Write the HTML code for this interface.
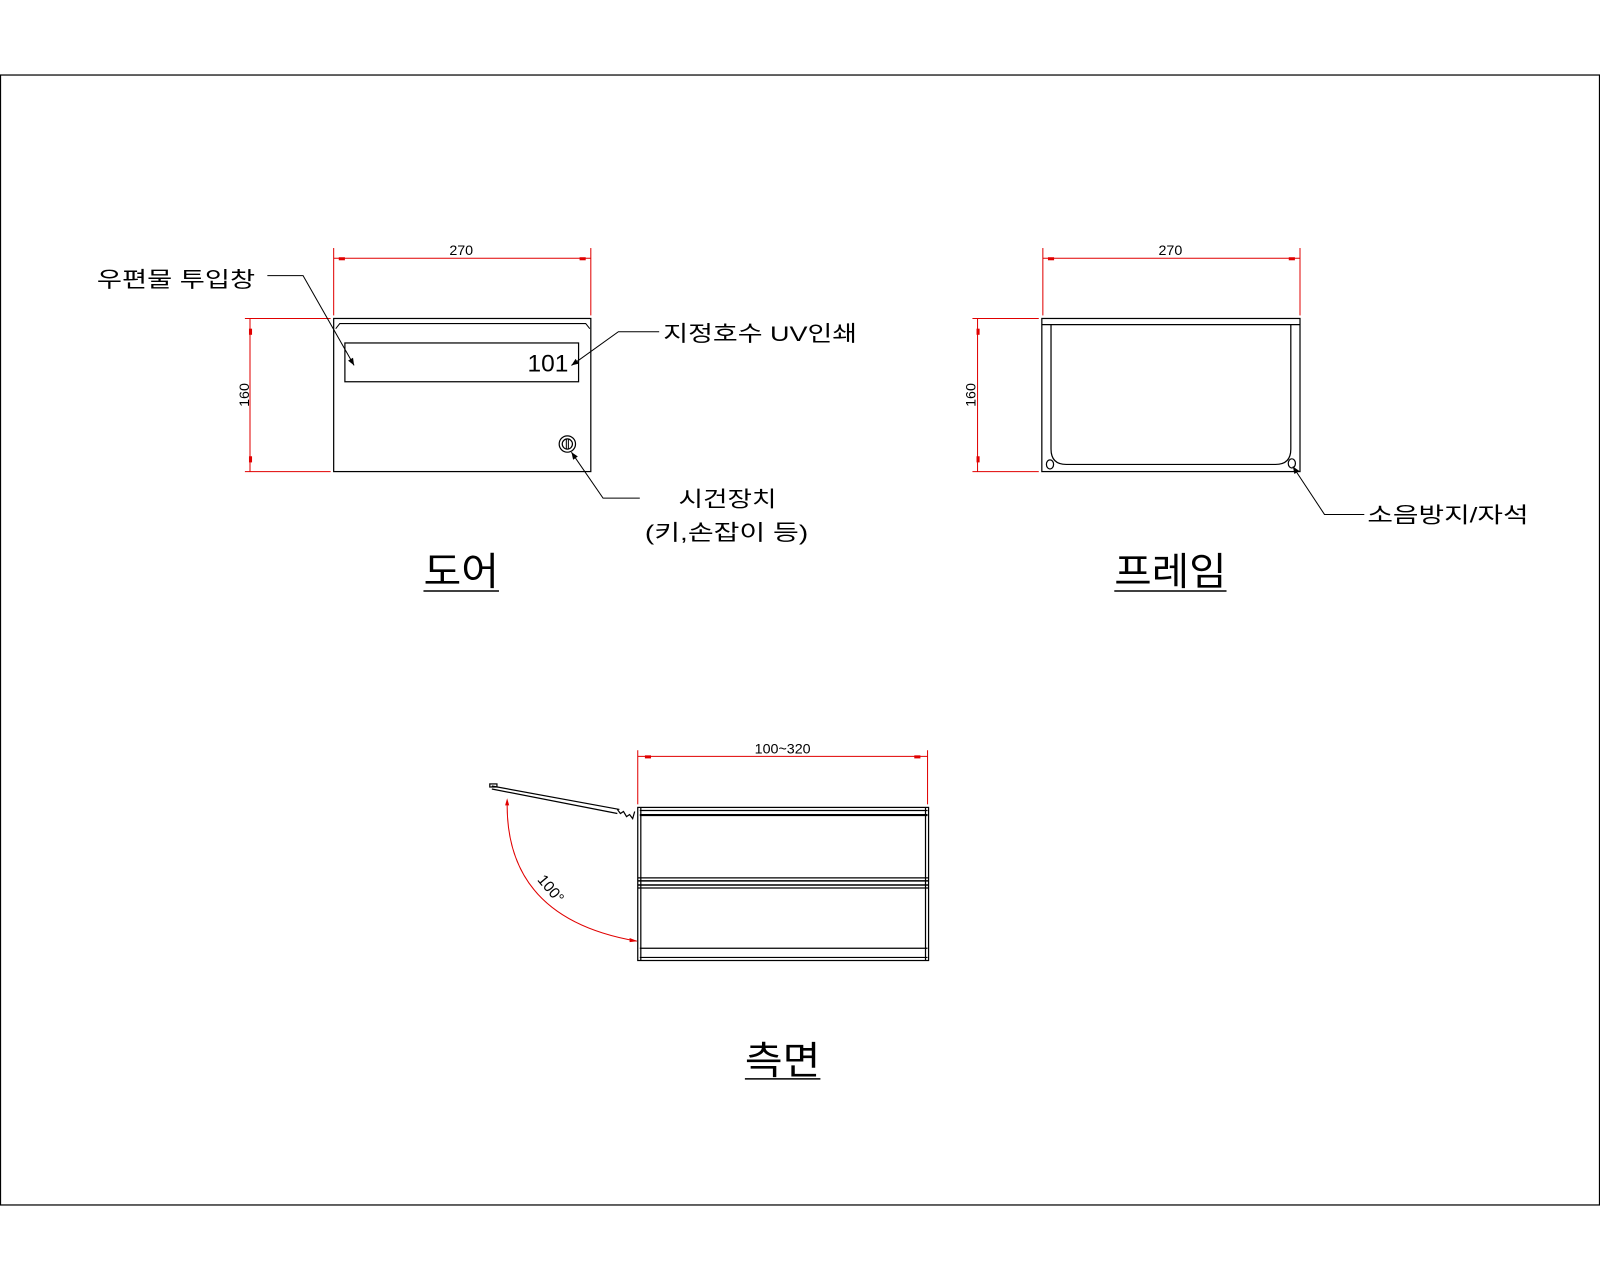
<!DOCTYPE html>
<html><head><meta charset="utf-8"><style>
html,body{margin:0;padding:0;background:#fff;}
svg{display:block;}
text{font-family:"Liberation Sans","Noto Sans CJK KR",sans-serif;fill:#000;}
</style></head><body>
<svg width="1600" height="1280" viewBox="0 0 1568 1254" preserveAspectRatio="none" xmlns="http://www.w3.org/2000/svg">
<defs>
<marker id="ar" viewBox="0 0 10 10" refX="10" refY="5" markerWidth="18" markerHeight="7" markerUnits="userSpaceOnUse" orient="auto"><path d="M0,1 L10,5 L0,9 Z" fill="#000"/></marker>
</defs>
<rect x="0.5" y="73.5" width="1567" height="1107" fill="none" stroke="#000" stroke-width="1.2"/>

<!-- DOOR -->
<g fill="none" stroke="#000" stroke-width="1.2">
<rect x="327" y="312" width="252" height="150"/>
<polyline points="329,322 333,317 574,317 578,322" stroke-width="1"/>
<rect x="338" y="336" width="229" height="38"/>
<circle cx="556" cy="435" r="8"/><circle cx="556" cy="435" r="5"/>
<line x1="555" y1="430" x2="555" y2="440" stroke-width="1"/><line x1="557" y1="430" x2="557" y2="440" stroke-width="1"/>
</g>
<text x="557" y="364" font-size="24" text-anchor="end">101</text>
<g stroke="#e00000" stroke-width="1" fill="none">
<line x1="327" y1="243" x2="327" y2="309"/><line x1="579" y1="243" x2="579" y2="309"/>
<line x1="327" y1="253" x2="579" y2="253"/>
<line x1="240" y1="312" x2="324" y2="312"/><line x1="240" y1="462" x2="324" y2="462"/>
<line x1="245" y1="312" x2="245" y2="462"/>
</g>
<g fill="#e00000"><rect x="332" y="252" width="6" height="3"/><rect x="568" y="252" width="6" height="3"/><rect x="244" y="322" width="3" height="6"/><rect x="244" y="447" width="3" height="6"/></g>
<text x="452" y="250" font-size="14" text-anchor="middle">270</text>
<text x="0" y="0" font-size="14" text-anchor="middle" transform="translate(244,387) rotate(-90)">160</text>
<g stroke="#000" stroke-width="1" fill="none">
<polyline points="262,270 297,270 347,358" marker-end="url(#ar)"/>
<polyline points="646,325 606,325 560,358" marker-end="url(#ar)"/>
<polyline points="627,488 591,488 560,443" marker-end="url(#ar)"/>
</g>
<text x="95" y="281" font-size="21" textLength="155" lengthAdjust="spacingAndGlyphs">우편물 투입창</text>
<text x="650" y="334" font-size="21" textLength="190" lengthAdjust="spacingAndGlyphs">지정호수 UV인쇄</text>
<text x="665" y="496" font-size="21" textLength="96" lengthAdjust="spacingAndGlyphs">시건장치</text>
<text x="632" y="529" font-size="21" textLength="160" lengthAdjust="spacingAndGlyphs">(키,손잡이 등)</text>
<text x="415" y="573" font-size="38" textLength="74" lengthAdjust="spacingAndGlyphs">도어</text>
<line x1="415" y1="579" x2="489" y2="579" stroke="#000" stroke-width="1.5"/>

<!-- FRAME -->
<g fill="none" stroke="#000" stroke-width="1.2">
<rect x="1021" y="312" width="253" height="150"/>
<line x1="1021" y1="318" x2="1274" y2="318"/>
<path d="M1030,318 L1030,440 Q1030,455 1045,455 L1250,455 Q1265,455 1265,440 L1265,318"/>
<ellipse cx="1029" cy="455" rx="3.5" ry="4.5"/><ellipse cx="1266" cy="454" rx="3.5" ry="4.5"/>
</g>
<g stroke="#e00000" stroke-width="1" fill="none">
<line x1="1022" y1="243" x2="1022" y2="309"/><line x1="1274" y1="243" x2="1274" y2="309"/>
<line x1="1022" y1="253" x2="1274" y2="253"/>
<line x1="953" y1="312" x2="1018" y2="312"/><line x1="953" y1="462" x2="1018" y2="462"/>
<line x1="958" y1="312" x2="958" y2="462"/>
</g>
<g fill="#e00000"><rect x="1027" y="252" width="6" height="3"/><rect x="1263" y="252" width="6" height="3"/><rect x="957" y="322" width="3" height="6"/><rect x="957" y="447" width="3" height="6"/></g>
<text x="1147" y="250" font-size="14" text-anchor="middle">270</text>
<text x="0" y="0" font-size="14" text-anchor="middle" transform="translate(956,387) rotate(-90)">160</text>
<polyline points="1337,504 1298,504 1267,457" stroke="#000" stroke-width="1" fill="none" marker-end="url(#ar)"/>
<text x="1340" y="512" font-size="21" textLength="158" lengthAdjust="spacingAndGlyphs">소음방지/자석</text>
<text x="1092" y="573" font-size="38" textLength="110" lengthAdjust="spacingAndGlyphs">프레임</text>
<line x1="1092" y1="579" x2="1202" y2="579" stroke="#000" stroke-width="1.5"/>

<!-- SIDE -->
<g fill="none" stroke="#000" stroke-width="1.2">
<rect x="625" y="791" width="285" height="150"/>
<line x1="627" y1="794" x2="909" y2="794"/>
<line x1="627" y1="798.5" x2="909" y2="798.5" stroke-width="2"/>
<line x1="625" y1="860" x2="910" y2="860"/>
<line x1="625" y1="863" x2="910" y2="863" stroke-width="1.5"/>
<line x1="625" y1="867" x2="910" y2="867" stroke-width="1.5"/>
<line x1="625" y1="870" x2="910" y2="870"/>
<line x1="627" y1="929" x2="909" y2="929"/>
<line x1="627" y1="938" x2="909" y2="938"/>
<line x1="628" y1="791" x2="628" y2="941"/>
<line x1="907" y1="791" x2="907" y2="941"/>
<path d="M482,770 L607,793 M482,773 L605,797"/>
<path d="M605,793 l3,4 l3,-2 l3,5 l3,-2 l3,4 l2,-7"/>
<rect x="480" y="768" width="7" height="3"/>
</g>
<g stroke="#e00000" stroke-width="1" fill="none">
<line x1="625" y1="735" x2="625" y2="788"/><line x1="909" y1="735" x2="909" y2="788"/>
<line x1="625" y1="741" x2="909" y2="741"/>
<path d="M497,787 Q496,900 624,922"/>
</g>
<g fill="#e00000"><rect x="632" y="740" width="6" height="3"/><rect x="896" y="740" width="6" height="3"/><path d="M497,782 l-2,7 l4,0 Z"/><path d="M625,922 l-8,-3 l0,4 Z"/></g>
<text x="767" y="738" font-size="14" text-anchor="middle">100~320</text>
<text x="0" y="0" font-size="15" text-anchor="middle" transform="translate(536,874) rotate(50)">100°</text>
<text x="730" y="1052" font-size="38" textLength="74" lengthAdjust="spacingAndGlyphs">측면</text>
<line x1="730" y1="1057" x2="804" y2="1057" stroke="#000" stroke-width="1.5"/>
</svg>
</body></html>
